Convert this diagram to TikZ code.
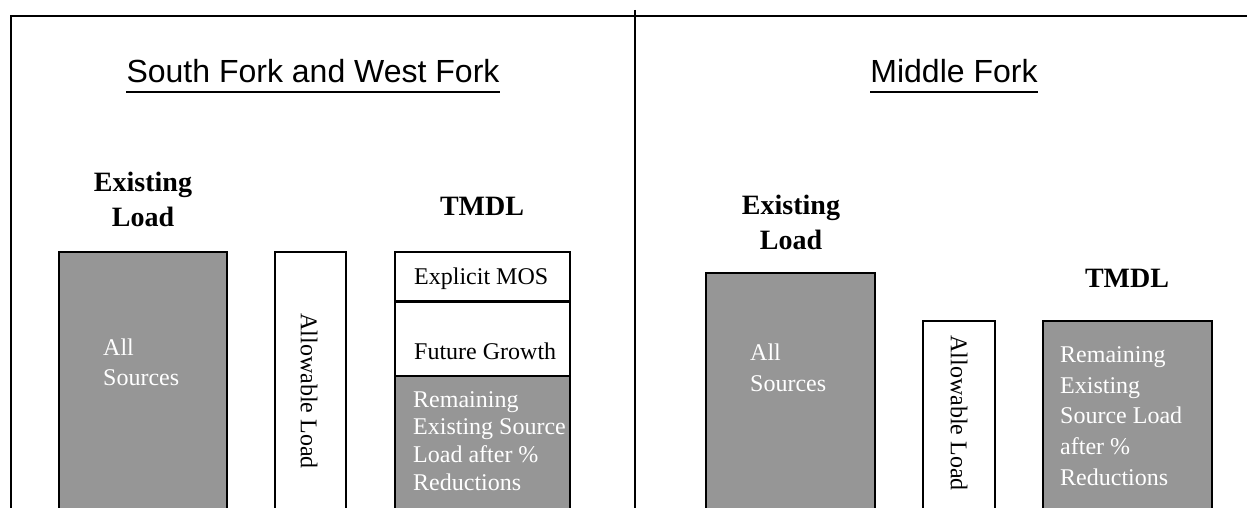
\documentclass[tikz,border=0pt]{standalone}
\usepackage{fontspec}
\setmainfont{Liberation Serif}
\newfontfamily\arialf{Liberation Sans}
\definecolor{boxgray}{RGB}{150,150,150}
\begin{document}
\begin{tikzpicture}[x=1pt,y=-1pt,
  frameline/.style={line width=2.6pt},
  barbox/.style={draw=black,line width=2.4pt},
  graybar/.style={barbox,fill=boxgray},
  whitebar/.style={barbox,fill=white},
  titletext/.style={font=\arialf\fontsize{32}{38}\selectfont,inner sep=0pt,anchor=base},
  headtext/.style={font=\bfseries\fontsize{28}{34}\selectfont,inner sep=0pt,anchor=base},
  bodytext/.style={font=\fontsize{24}{28}\selectfont,inner sep=0pt,anchor=base west},
  bodywhite/.style={bodytext,text=white},
  rottext/.style={font=\fontsize{24}{28}\selectfont,inner sep=0pt,rotate=-90},
]
\clip (0,0) rectangle (1247,508);
\fill[white] (0,0) rectangle (1247,508);

% frame
\draw[frameline] (11,520) -- (11,16) -- (1260,16);
\draw[frameline] (635,10) -- (635,520);

% titles
\node[titletext] (sfTitle) at (313,83) {South Fork and West Fork};
\draw[line width=2pt] ([yshift=-9pt]sfTitle.base west) -- ([yshift=-9pt]sfTitle.base east);
\node[titletext] (mfTitle) at (954,83) {Middle Fork};
\draw[line width=2pt] ([yshift=-9pt]mfTitle.base west) -- ([yshift=-9pt]mfTitle.base east);

% ---- left panel
\draw[graybar] (59,252) rectangle (227,530);
\draw[whitebar] (275,252) rectangle (346,530);
\draw[whitebar] (395,252) rectangle (570,376);
\draw[barbox] (395,301.5) -- (570,301.5);
\draw[graybar] (395,376) rectangle (570,530);

\node[headtext] (sfEx1) at (143,191) {Existing};
\node[headtext] (sfEx2) at (143,226) {Load};
\node[headtext] (sfTmdl) at (482,215) {TMDL};

\node[bodywhite] (sfAll1) at (103,355) {All};
\node[bodywhite] (sfAll2) at (103,385) {Sources};
\node[rottext] (sfAllow) at (309,391) {Allowable Load};
\node[bodytext] (sfMos) at (414,284) {Explicit MOS};
\node[bodytext] (sfGrow) at (414,359) {Future Growth};
\node[bodywhite] (sfRem1) at (413,407) {Remaining};
\node[bodywhite] (sfRem2) at (413,434.5) {Existing Source};
\node[bodywhite] (sfRem3) at (413,462) {Load after \%};
\node[bodywhite] (sfRem4) at (413,490) {Reductions};

% ---- right panel
\draw[graybar] (706,273) rectangle (875,530);
\draw[whitebar] (923,321) rectangle (995,530);
\draw[graybar] (1043,321) rectangle (1212,530);

\node[headtext] (mfEx1) at (791,214) {Existing};
\node[headtext] (mfEx2) at (791,249) {Load};
\node[headtext] (mfTmdl) at (1127,287) {TMDL};

\node[bodywhite] (mfAll1) at (750,360) {All};
\node[bodywhite] (mfAll2) at (750,391) {Sources};
\node[rottext] (mfAllow) at (959,413) {Allowable Load};
\node[bodywhite] (mfRem1) at (1060,362) {Remaining};
\node[bodywhite] (mfRem2) at (1060,393) {Existing};
\node[bodywhite] (mfRem3) at (1060,423) {Source Load};
\node[bodywhite] (mfRem4) at (1060,454) {after \%};
\node[bodywhite] (mfRem5) at (1060,485) {Reductions};
\end{tikzpicture}
\end{document}
